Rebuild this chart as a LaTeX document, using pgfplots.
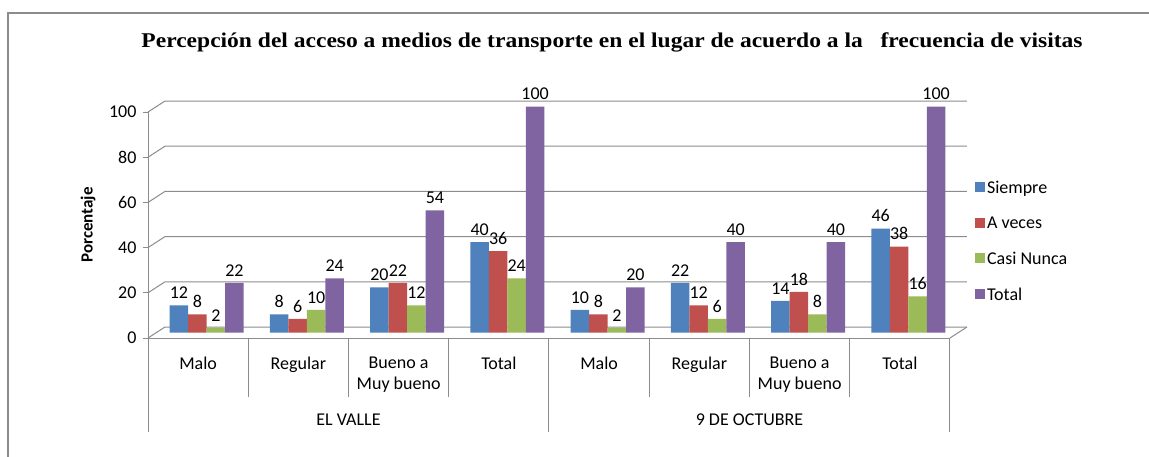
\documentclass[border=0pt]{standalone}
\usepackage{fontspec}
\setmainfont{Carlito}
\newfontfamily\titlefont{Liberation Serif}
\usepackage{pgfplots}
\pgfplotsset{compat=1.18}
\definecolor{cblue}{HTML}{4F81BD}
\definecolor{cred}{HTML}{C0504D}
\definecolor{cgreen}{HTML}{9BBB59}
\definecolor{cpurple}{HTML}{8064A2}
\definecolor{lgray}{RGB}{140,140,140}
\begin{document}
\begin{tikzpicture}
\useasboundingbox (0pt,0pt) rectangle (1149pt,456pt);
\fill[white] (0pt,0pt) rectangle (1149pt,456pt);
\draw[line width=1.3pt, lgray] (8pt,-5pt) -- (8pt,443pt) -- (1160pt,443pt);
\node[font=\titlefont\bfseries\fontsize{21}{25}\selectfont, xscale=1.12] at (612pt,414pt) {Percepción del acceso a medios de transporte en el lugar de acuerdo a la\ \ \ frecuencia de visitas};
\begin{axis}[
  at={(148pt,118pt)}, anchor=south west, scale only axis,
  width=802pt, height=226pt,
  xmin=-0.5, xmax=7.5, ymin=0, ymax=100,
  clip=false,
  axis x line*=bottom, axis y line*=left,
  axis line style={lgray, line width=1pt},
  ytick={0,20,40,60,80,100},
  xtick={0,1,2,3,4,5,6,7},
  xticklabels={Malo,Regular,{Bueno a\\Muy bueno},Total,Malo,Regular,{Bueno a\\Muy bueno},Total},
  xtick style={draw=none},
  ytick style={lgray, line width=1pt},
  tick align=outside, major tick length=5pt,
  xticklabel style={align=center, font=\fontsize{18}{21}\selectfont, yshift=-10pt},
  yticklabel style={font=\fontsize{18}{21}\selectfont, /pgf/number format/assume math mode=true, xshift=-3pt},
  ylabel={\bfseries Porcentaje},
  every axis y label/.style={at={(axis description cs:-0.0748,0.5)}, rotate=90, anchor=center, font=\fontsize{17}{20}\selectfont},
  ybar=0pt, bar width=18.5pt,
  nodes near coords,
  every node near coord/.append style={font=\fontsize{18}{21}\selectfont, /pgf/number format/assume math mode=true, black, yshift=3pt},
  legend style={draw=none, fill=none, at={(1.031,0.705)}, anchor=north west, font=\fontsize{18}{21}\selectfont, row sep=18pt, inner sep=0pt},
  legend cell align=left,
]
\pgfplotsinvokeforeach{0,20,40,60,80,100}{
  \draw[lgray, line width=1pt] (axis cs:-0.5,#1) -- ([shift={(17pt,11pt)}]axis cs:-0.5,#1) -- ([shift={(17pt,11pt)}]axis cs:7.5,#1);
}
\draw[lgray, line width=1pt] (axis cs:7.5,0) -- ([shift={(17pt,11pt)}]axis cs:7.5,0);
\pgfplotsinvokeforeach{0.5,1.5,2.5,4.5,5.5,6.5}{
  \draw[lgray, line width=1pt] (axis cs:#1,0) -- ([yshift=-59pt]axis cs:#1,0);
}
\pgfplotsinvokeforeach{-0.5,3.5,7.5}{
  \draw[lgray, line width=1pt] (axis cs:#1,0) -- ([yshift=-94pt]axis cs:#1,0);
}
\node[font=\fontsize{18}{21}\selectfont] at ([yshift=-82pt]axis cs:1.5,0) {EL VALLE};
\node[font=\fontsize{18}{21}\selectfont] at ([yshift=-82pt]axis cs:5.5,0) {9 DE OCTUBRE};
\addplot[draw=none, fill=cblue, xshift=8.5pt, yshift=5.5pt,
  legend image code/.code={\fill[cblue] (0pt,-10pt) rectangle (10pt,0pt);}]
  coordinates {(0,12) (1,8) (2,20) (3,40) (4,10) (5,22) (6,14) (7,46)};
\addlegendentry{Siempre}
\addplot[draw=none, fill=cred, xshift=8.5pt, yshift=5.5pt,
  legend image code/.code={\fill[cred] (0pt,-10pt) rectangle (10pt,0pt);}]
  coordinates {(0,8) (1,6) (2,22) (3,36) (4,8) (5,12) (6,18) (7,38)};
\addlegendentry{A veces}
\addplot[draw=none, fill=cgreen, xshift=8.5pt, yshift=5.5pt,
  legend image code/.code={\fill[cgreen] (0pt,-10pt) rectangle (10pt,0pt);}]
  coordinates {(0,2) (1,10) (2,12) (3,24) (4,2) (5,6) (6,8) (7,16)};
\addlegendentry{Casi Nunca}
\addplot[draw=none, fill=cpurple, xshift=8.5pt, yshift=5.5pt,
  legend image code/.code={\fill[cpurple] (0pt,-10pt) rectangle (10pt,0pt);}]
  coordinates {(0,22) (1,24) (2,54) (3,100) (4,20) (5,40) (6,40) (7,100)};
\addlegendentry{Total}
\end{axis}
\end{tikzpicture}
\end{document}
